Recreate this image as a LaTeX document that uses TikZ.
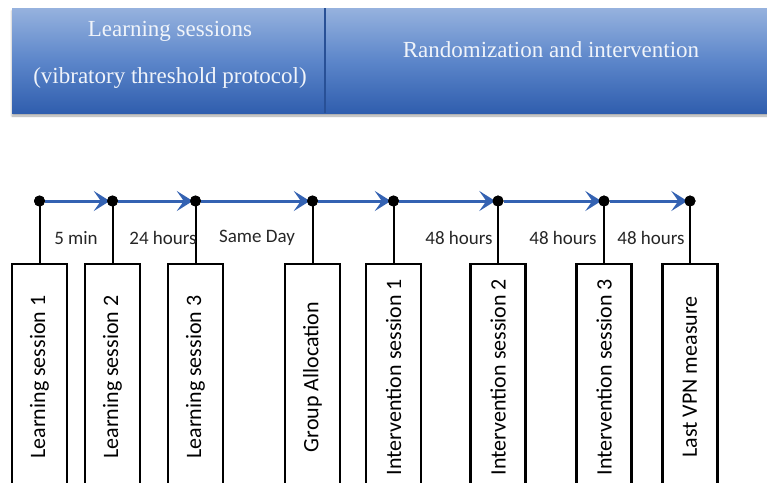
\documentclass[tikz,border=0pt]{standalone}
\usepackage{fontspec}
\setmainfont{Carlito}
\newfontfamily\hdrfont{Liberation Serif}
\usetikzlibrary{arrows.meta,shadows.blur}
\definecolor{tlblue}{RGB}{52,98,178}
\definecolor{bandtop}{RGB}{150,178,222}
\definecolor{bandmid}{RGB}{92,134,202}
\definecolor{bandbot}{RGB}{48,94,174}
\definecolor{bandline}{RGB}{40,80,150}
\definecolor{hdrtxt}{RGB}{240,244,250}
\tikzset{
  dot/.style={circle,fill=black,inner sep=0pt,minimum size=11pt},
  stepbox/.style={draw=black,line width=2.5pt,rectangle,rotate=90,
    minimum width=226pt,minimum height=55pt,inner sep=0pt,
    font=\fontsize{22}{25}\selectfont},
  tlarrow/.style={draw=tlblue,line width=3pt,
    -{Stealth[length=16pt,width=20pt,inset=7pt]},shorten >=-3pt},
  stem/.style={draw=black,line width=2pt},
  gaplabel/.style={font=\fontsize{19}{22}\selectfont,text=black!85,inner sep=1pt},
  hdrtext/.style={font=\hdrfont\fontsize{23}{26}\selectfont,text=hdrtxt}
}
\begin{document}
\begin{tikzpicture}[x=1pt,y=-1pt]
\useasboundingbox (0,0) rectangle (767,482);
% header band
\path[blur shadow={shadow xshift=0pt,shadow yshift=-3pt,shadow blur steps=6,shadow opacity=35},
  top color=bandtop,bottom color=bandbot,middle color=bandmid]
  (12,8) rectangle (790,113);
\draw[bandline,line width=1.5pt] (325,8) -- (325,113);
\node[hdrtext] (h1) at (170,31) {Learning sessions};
\node[hdrtext] (h2) at (170,78) {(vibratory threshold protocol)};
\node[hdrtext] (h3) at (551,50) {Randomization and intervention};
% dots
\node[dot] (d1) at (39.5,201) {};
\node[dot] (d2) at (112.5,201) {};
\node[dot] (d3) at (195.5,201) {};
\node[dot] (d4) at (312.5,201) {};
\node[dot] (d5) at (393.5,201) {};
\node[dot] (d6) at (498,201) {};
\node[dot] (d7) at (604,201) {};
\node[dot] (d8) at (690,201) {};
% boxes
\node[stepbox] (b1) at (39.5,377) {Learning session 1};
\node[stepbox] (b2) at (112.5,377) {Learning session 2};
\node[stepbox] (b3) at (195.5,377) {Learning session 3};
\node[stepbox] (b4) at (312.5,377) {Group Allocation};
\node[stepbox] (b5) at (393.5,377) {Intervention session 1};
\node[stepbox] (b6) at (498,377) {Intervention session 2};
\node[stepbox] (b7) at (604,377) {Intervention session 3};
\node[stepbox] (b8) at (690,377) {Last VPN measure};
% stems
\foreach \i in {1,...,8} { \draw[stem] (d\i.center) -- (b\i.east); }
% arrows
\draw[tlarrow] (d1) -- (d2);
\draw[tlarrow] (d2) -- (d3);
\draw[tlarrow] (d3) -- (d4);
\draw[tlarrow] (d4) -- (d5);
\draw[tlarrow] (d5) -- (d6);
\draw[tlarrow] (d6) -- (d7);
\draw[tlarrow] (d7) -- (d8);
\foreach \i in {1,...,8} { \fill (d\i) circle (5.5pt); }
% gap labels
\node[gaplabel] (l1) at (76,238) {5 min};
\node[gaplabel] (l2) at (163,238) {24 hours};
\node[gaplabel] (l3) at (257,238) {Same Day};
\node[gaplabel] (l4) at (459,238) {48 hours};
\node[gaplabel] (l5) at (563,238) {48 hours};
\node[gaplabel] (l6) at (651,238) {48 hours};
\end{tikzpicture}
\end{document}
